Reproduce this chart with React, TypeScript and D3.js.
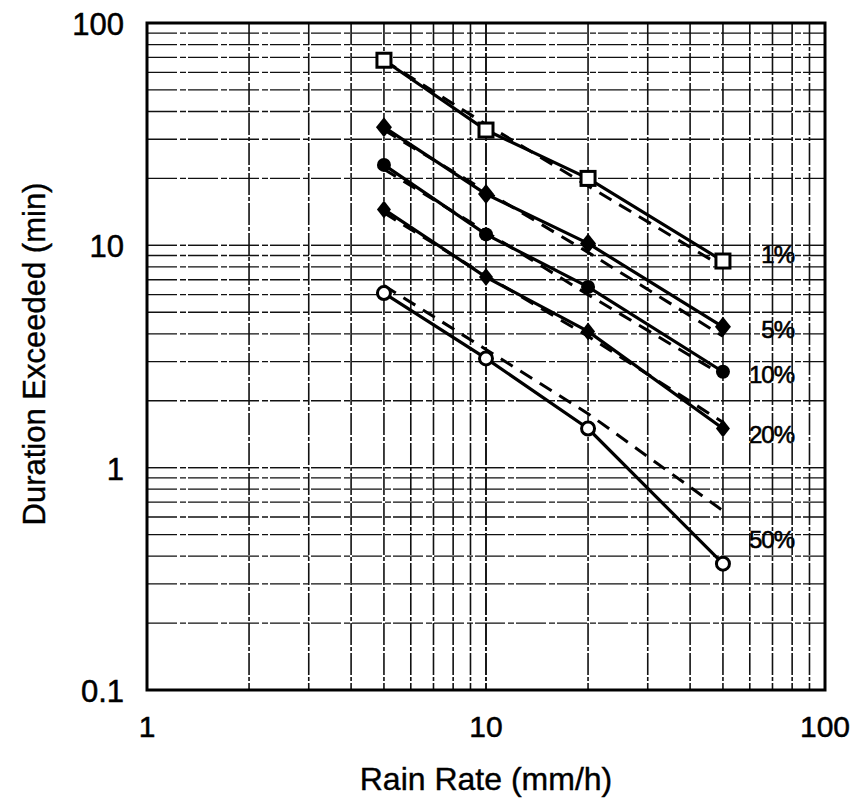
import React, { useEffect, useRef } from 'react';
import * as d3 from 'd3';

const rainRates = [5, 10, 20, 50];
const seriesNames = ['1%', '5%', '10%', '20%', '50%'];
const measured1 = [68, 33, 20, 8.5];
const measured5 = [34, 17, 10.2, 4.3];
const measured10 = [23, 11.2, 6.5, 2.7];
const measured20 = [14.5, 7.2, 4.1, 1.5];
const measured50 = [6.1, 3.1, 1.5, 0.37];
const model1 = [68, 35, 18.5, 8.0];
const model5 = [33, 17.5, 9.3, 3.9];
const model10 = [22, 11.5, 6.0, 2.6];
const model20 = [14, 7.3, 3.9, 1.6];
const model50 = [6.6, 3.4, 1.75, 0.64];
const markers = ['square', 'diamond', 'circle', 'diamond', 'opencircle'];
const xTickLabels = [1, 10, 100];
const yTickLabels = [0.1, 1, 10, 100];

const App = () => {
  const svgRef = useRef<SVGSVGElement>(null);

  useEffect(() => {
    const svg = d3.select(svgRef.current);
    svg.selectAll('*').remove();

    const width = 857;
    const height = 807;
    const margin = { top: 23, right: 32, bottom: 117, left: 147 };
    const font = 'Liberation Sans, Arial, Helvetica, sans-serif';

    const x = d3.scaleLog().domain([1, 100]).range([margin.left, width - margin.right]);
    const y = d3.scaleLog().domain([0.1, 100]).range([height - margin.bottom, margin.top]);

    svg.append('rect').attr('width', width).attr('height', height).attr('fill', '#fff');

    // Grid lines (decades and sub-decades)
    const xGrid: number[] = [];
    for (let d = 1; d < 100; d *= 10) for (let k = 1; k <= 10; k++) xGrid.push(d * k);
    const yGrid: number[] = [];
    for (let d = 0.1; d < 100; d *= 10) for (let k = 1; k <= 10; k++) yGrid.push(+(d * k).toPrecision(3));

    const grid = svg.append('g').attr('stroke', '#111');
    grid.selectAll('line.v')
      .data(xGrid)
      .enter()
      .append('line')
      .attr('class', 'v')
      .attr('x1', d => x(d)).attr('x2', d => x(d))
      .attr('y1', margin.top).attr('y2', height - margin.bottom)
      .attr('stroke-width', 1.6)
      .attr('stroke-dasharray', '22,2,4,2');
    grid.selectAll('line.h')
      .data(yGrid)
      .enter()
      .append('line')
      .attr('class', 'h')
      .attr('y1', d => y(d)).attr('y2', d => y(d))
      .attr('x1', margin.left).attr('x2', width - margin.right)
      .attr('stroke-width', 1.3)
      .attr('stroke-dasharray', '30,3,6,2');

    // Frame
    svg.append('rect')
      .attr('x', margin.left).attr('y', margin.top)
      .attr('width', width - margin.left - margin.right)
      .attr('height', height - margin.top - margin.bottom)
      .attr('fill', 'none').attr('stroke', '#000').attr('stroke-width', 3);

    const measured = [measured1, measured5, measured10, measured20, measured50];
    const model = [model1, model5, model10, model20, model50];

    const line = d3.line<number>()
      .x((_, i) => x(rainRates[i]))
      .y(d => y(d));

    // Model (dashed) lines
    model.forEach(vals => {
      svg.append('path')
        .attr('d', line(vals))
        .attr('fill', 'none')
        .attr('stroke', '#000')
        .attr('stroke-width', 3)
        .attr('stroke-dasharray', '14,9');
    });

    // Measured (solid) lines
    measured.forEach(vals => {
      svg.append('path')
        .attr('d', line(vals))
        .attr('fill', 'none')
        .attr('stroke', '#000')
        .attr('stroke-width', 3.2);
    });

    // Markers
    measured.forEach((vals, si) => {
      const g = svg.append('g');
      const kind = markers[si];
      vals.forEach((v, i) => {
        const cx = x(rainRates[i]);
        const cy = y(v);
        if (kind === 'square') {
          g.append('rect').attr('x', cx - 7).attr('y', cy - 7).attr('width', 14).attr('height', 14)
            .attr('fill', '#fff').attr('stroke', '#000').attr('stroke-width', 3);
        } else if (kind === 'diamond') {
          const w = si === 3 ? 7 : 8;
          const h = si === 3 ? 9 : 10;
          g.append('path')
            .attr('d', `M0,${-h}L${w},0L0,${h}L${-w},0Z`)
            .attr('transform', `translate(${cx},${cy})`).attr('fill', '#000');
        } else if (kind === 'circle') {
          g.append('circle').attr('cx', cx).attr('cy', cy).attr('r', 7).attr('fill', '#000');
        } else {
          g.append('circle').attr('cx', cx).attr('cy', cy).attr('r', 6.5)
            .attr('fill', '#fff').attr('stroke', '#000').attr('stroke-width', 3);
        }
      });
    });

    // Series labels
    const labelPos = [
      { x: 794, y: 263 },
      { x: 794, y: 338 },
      { x: 794, y: 383 },
      { x: 794, y: 443 },
      { x: 794, y: 548 },
    ];
    seriesNames.forEach((name, i) => {
      svg.append('text')
        .attr('x', labelPos[i].x).attr('y', labelPos[i].y)
        .attr('text-anchor', 'end')
        .attr('font-family', font).attr('font-size', 24)
        .attr('letter-spacing', -1)
        .attr('fill', '#000').attr('stroke', '#000').attr('stroke-width', 0.6)
        .text(name);
    });

    // Tick labels
    svg.selectAll('text.xt')
      .data(xTickLabels)
      .enter()
      .append('text')
      .attr('class', 'xt')
      .attr('x', d => x(d)).attr('y', 737)
      .attr('text-anchor', 'middle')
      .attr('font-family', font).attr('font-size', 30)
      .attr('stroke', '#000').attr('stroke-width', 0.5)
      .text(d => String(d));

    svg.selectAll('text.yt')
      .data(yTickLabels)
      .enter()
      .append('text')
      .attr('class', 'yt')
      .attr('x', 124).attr('y', d => y(d) + 12)
      .attr('text-anchor', 'end')
      .attr('font-family', font).attr('font-size', 31)
      .attr('stroke', '#000').attr('stroke-width', 0.5)
      .text(d => String(d));

    // Axis titles
    svg.append('text')
      .attr('x', 486).attr('y', 790)
      .attr('text-anchor', 'middle')
      .attr('font-family', font).attr('font-size', 32)
      .attr('stroke', '#000').attr('stroke-width', 0.4)
      .text('Rain Rate (mm/h)');

    svg.append('text')
      .attr('transform', `translate(45, 354) rotate(-90)`)
      .attr('text-anchor', 'middle')
      .attr('font-family', font).attr('font-size', 31)
      .attr('stroke', '#000').attr('stroke-width', 0.4)
      .text('Duration Exceeded (min)');
  }, []);

  return (
    <svg ref={svgRef} width={857} height={807}
      style={{ position: 'absolute', left: 0, top: 0 }} />
  );
};

export default App;
